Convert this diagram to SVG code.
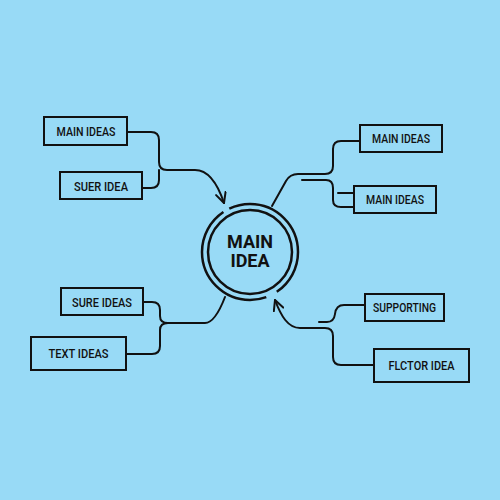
<svg xmlns="http://www.w3.org/2000/svg" width="500" height="500" viewBox="0 0 500 500">
<defs>
<marker id="arr" viewBox="0 0 12 12" refX="11" refY="6" markerWidth="12" markerHeight="12" markerUnits="userSpaceOnUse" orient="auto">
<path d="M1 1 L11 6 L1 11" fill="none" stroke="#111" stroke-width="2" stroke-linecap="round" stroke-linejoin="round"/>
</marker>
<style>
.box{fill:none;stroke:#111;stroke-width:2}
.lbl{font-family:Roboto,"Liberation Sans",sans-serif;font-size:12.5px;font-weight:500;fill:#111;text-anchor:middle}
.ln{fill:none;stroke:#111;stroke-width:2;stroke-linecap:round;stroke-linejoin:round}
.ring{fill:none;stroke:#111;stroke-width:2.5}
.big{font-family:Roboto,"Liberation Sans",sans-serif;font-size:18px;font-weight:700;fill:#111;text-anchor:middle}
</style>
</defs>
<rect width="500" height="500" fill="#98DAF6"/>
<g id="connectors">
<path class="ln" d="M127 132 L151 132 Q159 132 159 140 L159 162 Q159 170 167 170 L195 170 C208 170 217 182 224 203" marker-end="url(#arr)"/>
<path class="ln" d="M142 188 L151 188 Q159 188 159 180 L159 170"/>
<path class="ln" d="M143 302 L152 302 Q160 302 160 310 L160 316 Q160 323 168 323 L205 323 Q215 323 225 297"/>
<path class="ln" d="M126 354 L152 354 Q160 354 160 346 L160 330 Q160 323 168 323"/>
<path class="ln" d="M272 206 L286 181 Q290 174 298 174 L325 174 Q333 174 333 166 L333 149 Q333 141 341 141 L360 141"/>
<path class="ln" d="M302 180 L326 180 Q333 180 333 188 L333 200 Q333 207 341 207 L354 207"/>
<path class="ln" d="M338 193 L354 193"/>
<path class="ln" d="M374 365 L341 365 Q333 365 333 357 L333 336 Q333 328 325 328 L300 328 C288 328 281 316 275 300" marker-end="url(#arr)"/>
<path class="ln" d="M319 322 L327 322 Q334 322 335 314 Q336 305 344 305 L365 305"/>
</g>
<g id="main">
<circle cx="250" cy="252" r="42" class="ring"/>
<circle cx="250" cy="252" r="48" class="ring" stroke-dasharray="46.91 11.73 139.06 6.70 97.18 0"/>
<text class="big" x="250" y="248">MAIN</text>
<text class="big" x="250" y="267">IDEA</text>
</g>
<g id="n1"><rect class="box" x="44" y="117" width="83" height="28"/><text class="lbl" x="86" y="136" textLength="59" lengthAdjust="spacingAndGlyphs">MAIN IDEAS</text></g>
<g id="n2"><rect class="box" x="60" y="172" width="82" height="27"/><text class="lbl" x="101" y="191" textLength="54" lengthAdjust="spacingAndGlyphs">SUER IDEA</text></g>
<g id="n3"><rect class="box" x="360" y="125" width="82" height="27"/><text class="lbl" x="401" y="143" textLength="58" lengthAdjust="spacingAndGlyphs">MAIN IDEAS</text></g>
<g id="n4"><rect class="box" x="354" y="186" width="82" height="27"/><text class="lbl" x="395" y="204" textLength="58" lengthAdjust="spacingAndGlyphs">MAIN IDEAS</text></g>
<g id="n5"><rect class="box" x="61" y="288" width="82" height="27"/><text class="lbl" x="102" y="307" textLength="60" lengthAdjust="spacingAndGlyphs">SURE IDEAS</text></g>
<g id="n6"><rect class="box" x="31" y="337" width="95" height="33"/><text class="lbl" x="78.5" y="358" textLength="60" lengthAdjust="spacingAndGlyphs">TEXT IDEAS</text></g>
<g id="n7"><rect class="box" x="365" y="294" width="79" height="27"/><text class="lbl" x="404.5" y="312" textLength="63" lengthAdjust="spacingAndGlyphs">SUPPORTING</text></g>
<g id="n8"><rect class="box" x="374" y="349" width="95" height="33"/><text class="lbl" x="421.5" y="370" textLength="66" lengthAdjust="spacingAndGlyphs">FLCTOR IDEA</text></g>
</svg>
